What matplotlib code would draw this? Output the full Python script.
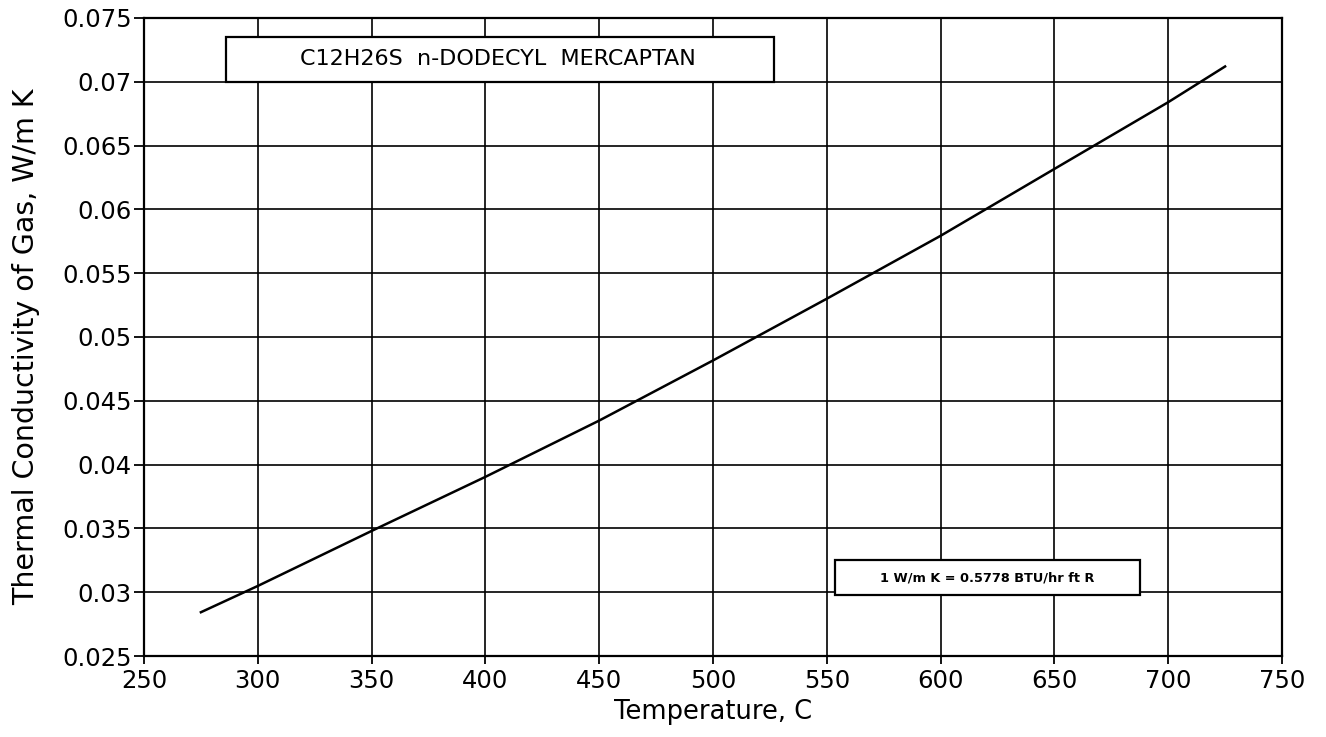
import matplotlib
matplotlib.use("Agg")
import matplotlib.pyplot as plt
from matplotlib.patches import Rectangle

# values
temp_c = [275, 300, 350, 400, 450, 500, 550, 600, 650, 700, 725]
k_gas = [0.02843, 0.03049, 0.0348, 0.03904, 0.04345, 0.04816,
         0.0530, 0.05793, 0.06317, 0.0684, 0.0712]

x_ticks = [250, 300, 350, 400, 450, 500, 550, 600, 650, 700, 750]
y_ticks = [0.025, 0.03, 0.035, 0.04, 0.045, 0.05, 0.055, 0.06, 0.065, 0.07, 0.075]
y_tick_labels = ["0.025", "0.03", "0.035", "0.04", "0.045", "0.05",
                 "0.055", "0.06", "0.065", "0.07", "0.075"]

title_text = "C12H26S  n-DODECYL  MERCAPTAN"
note_text = "1 W/m K = 0.5778 BTU/hr ft R"

plt.rcParams["font.family"] = ["DejaVu Sans"]

fig = plt.figure(figsize=(13.26, 7.37), dpi=100)
ax = fig.add_axes([0.1086, 0.1099, 0.8582, 0.8657])

ax.plot(temp_c, k_gas, color="black", lw=1.8, zorder=3)

ax.set_xlim(250, 750)
ax.set_ylim(0.025, 0.075)
ax.set_xticks(x_ticks)
ax.set_yticks(y_ticks)
ax.set_yticklabels(y_tick_labels)
ax.tick_params(direction="out", width=1.3, labelsize=17.5, colors="black")
ax.tick_params(axis="x", length=6, pad=3)
ax.tick_params(axis="y", length=7, pad=2)
ax.grid(True, color="black", lw=1.2)
for s in ax.spines.values():
    s.set_linewidth(1.6)

ax.set_xlabel("Temperature, C", fontsize=18.5)
ax.xaxis.set_label_coords(0.5, -0.088)
ax.xaxis.label.set_va("center")
ax.set_ylabel("Thermal Conductivity of Gas, W/m K", fontsize=20.5)
ax.yaxis.set_label_coords(-0.1037, 0.485)
ax.yaxis.label.set_va("center")

# title box
ax.add_patch(Rectangle((286, 0.07), 241, 0.0035, facecolor="white",
                       edgecolor="black", lw=1.6, zorder=4))
ax.text(405.5, 0.07175, title_text, ha="center", va="center", fontsize=16, zorder=5)

# conversion box
ax.add_patch(Rectangle((553.6, 0.02978), 134, 0.00274, facecolor="white",
                       edgecolor="black", lw=1.6, zorder=4))
ax.text(620.6, 0.03115, note_text, ha="center", va="center", fontsize=9.3,
        fontweight="bold", zorder=5)

fig.savefig("out.png", dpi=100)
